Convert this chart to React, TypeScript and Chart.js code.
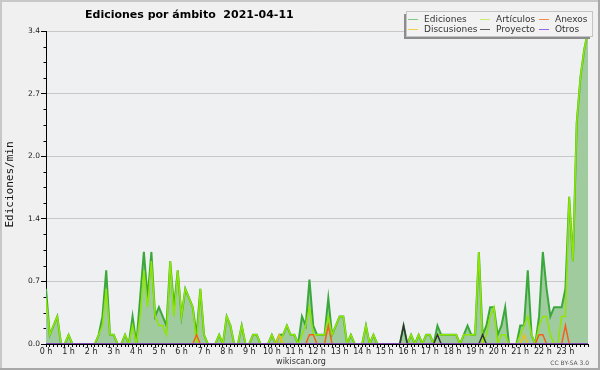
import React, { useEffect, useRef } from "react";
import { Chart, registerables } from "chart.js";

Chart.register(...registerables);

const TITLE = "Ediciones por ámbito  2021-04-11";
const Y_TITLE = "Ediciones/min";
const SITE = "wikiscan.org";
const LICENSE = "CC BY-SA 3.0";

const SERIES_NAMES = ["Ediciones", "Artículos", "Anexos", "Discusiones", "Proyecto", "Otros"];
const HOUR_LABELS = [
  "0 h", "1 h", "2 h", "3 h", "4 h", "5 h", "6 h", "7 h", "8 h", "9 h", "10 h", "11 h",
  "12 h", "13 h", "14 h", "15 h", "16 h", "17 h", "18 h", "19 h", "20 h", "21 h", "22 h", "23 h",
];
const STEPS_PER_HOUR = 6; // one value every 10 minutes
const Y_TICKS = [0, 0.68, 1.36, 2.04, 2.72, 3.4];
const Y_MINOR_STEP = 0.17;
const Y_MAX = 3.4;
const X_MAX = 24;

// edits per minute, 10-minute samples (row = 2 hours)
const EDICIONES = [
  0.6, 0.1, 0.2, 0.3, 0, 0, 0.1, 0, 0, 0, 0, 0,
  0, 0, 0.1, 0.3, 0.8, 0.1, 0.1, 0, 0, 0.1, 0, 0.3,
  0, 0.5, 1.0, 0.5, 1.0, 0.3, 0.4, 0.3, 0.2, 0.9, 0.4, 0.8,
  0.3, 0.6, 0.5, 0.4, 0.1, 0.6, 0.1, 0, 0, 0, 0.1, 0,
  0.3, 0.2, 0, 0, 0.2, 0, 0, 0.1, 0.1, 0, 0, 0,
  0.1, 0, 0.1, 0.1, 0.2, 0.1, 0.1, 0, 0.3, 0.2, 0.7, 0.2,
  0.1, 0.1, 0.1, 0.5, 0.1, 0.2, 0.3, 0.3, 0, 0.1, 0, 0,
  0, 0.2, 0, 0.1, 0, 0, 0, 0, 0, 0, 0, 0.2,
  0, 0.1, 0, 0.1, 0, 0.1, 0.1, 0, 0.2, 0.1, 0.1, 0.1,
  0.1, 0.1, 0, 0.1, 0.2, 0.1, 0.1, 1.0, 0.1, 0.2, 0.4, 0.4,
  0.1, 0.2, 0.4, 0, 0, 0, 0.2, 0.2, 0.8, 0.1, 0, 0.3,
  1.0, 0.6, 0.3, 0.4, 0.4, 0.4, 0.6, 1.6, 0.9, 2.4, 2.9, 3.2,
  3.4,
];
const ARTICULOS = [
  0.5, 0.1, 0.2, 0.3, 0, 0, 0.1, 0, 0, 0, 0, 0,
  0, 0, 0.1, 0.2, 0.6, 0.1, 0.1, 0, 0, 0.1, 0, 0.2,
  0, 0.3, 0.8, 0.4, 0.9, 0.3, 0.2, 0.2, 0.1, 0.9, 0.3, 0.8,
  0.3, 0.6, 0.5, 0.4, 0, 0.6, 0.1, 0, 0, 0, 0.1, 0,
  0.3, 0.2, 0, 0, 0.2, 0, 0, 0.1, 0.1, 0, 0, 0,
  0.1, 0, 0, 0.1, 0.2, 0.1, 0.1, 0, 0.1, 0.2, 0.4, 0.1,
  0.1, 0.1, 0.1, 0.3, 0.1, 0.2, 0.3, 0.3, 0, 0.1, 0, 0,
  0, 0.2, 0, 0.1, 0, 0, 0, 0, 0, 0, 0, 0,
  0, 0.1, 0, 0.1, 0, 0.1, 0.1, 0, 0.1, 0.1, 0.1, 0.1,
  0.1, 0.1, 0, 0.1, 0.1, 0.1, 0.1, 1.0, 0, 0.1, 0.3, 0.4,
  0, 0.1, 0.1, 0, 0, 0, 0.1, 0.2, 0.3, 0.1, 0, 0.2,
  0.3, 0.3, 0.1, 0, 0, 0.3, 0.3, 1.6, 0.9, 2.4, 2.9, 3.2,
  3.4,
];
const ANEXOS = [
  0, 0, 0, 0, 0, 0, 0, 0, 0, 0, 0, 0,
  0, 0, 0, 0, 0, 0, 0, 0, 0, 0, 0, 0,
  0, 0, 0, 0, 0, 0, 0, 0, 0, 0, 0, 0,
  0, 0, 0, 0, 0.1, 0, 0, 0, 0, 0, 0, 0,
  0, 0, 0, 0, 0, 0, 0, 0, 0, 0, 0, 0,
  0, 0, 0, 0, 0, 0, 0, 0, 0, 0, 0.1, 0.1,
  0, 0, 0, 0.2, 0, 0, 0, 0, 0, 0, 0, 0,
  0, 0, 0, 0, 0, 0, 0, 0, 0, 0, 0, 0,
  0, 0, 0, 0, 0, 0, 0, 0, 0, 0, 0, 0,
  0, 0, 0, 0, 0, 0, 0, 0, 0, 0, 0, 0,
  0, 0, 0, 0, 0, 0, 0, 0, 0, 0, 0, 0.1,
  0.1, 0, 0, 0, 0, 0, 0.2, 0, 0, 0, 0, 0,
  0,
];
const DISCUSIONES = [
  0, 0, 0, 0, 0, 0, 0, 0, 0, 0, 0, 0,
  0, 0, 0, 0, 0, 0, 0, 0, 0, 0, 0, 0,
  0, 0, 0, 0, 0, 0, 0, 0, 0, 0, 0, 0,
  0, 0, 0, 0, 0, 0, 0, 0, 0, 0, 0, 0,
  0, 0, 0, 0, 0, 0, 0, 0, 0, 0, 0, 0,
  0, 0, 0.1, 0, 0, 0, 0, 0, 0, 0, 0, 0,
  0, 0, 0, 0, 0, 0, 0, 0, 0, 0, 0, 0,
  0, 0, 0, 0, 0, 0, 0, 0, 0, 0, 0, 0,
  0, 0, 0, 0, 0, 0, 0, 0, 0, 0, 0, 0,
  0, 0, 0, 0, 0, 0, 0, 0, 0, 0, 0, 0,
  0, 0, 0, 0, 0, 0, 0, 0.1, 0, 0, 0, 0,
  0, 0, 0, 0, 0, 0, 0, 0, 0, 0, 0, 0,
  0,
];
const PROYECTO = [
  0, 0, 0, 0, 0, 0, 0, 0, 0, 0, 0, 0,
  0, 0, 0, 0, 0, 0, 0, 0, 0, 0, 0, 0,
  0, 0, 0, 0, 0, 0, 0, 0, 0, 0, 0, 0,
  0, 0, 0, 0, 0, 0, 0, 0, 0, 0, 0, 0,
  0, 0, 0, 0, 0, 0, 0, 0, 0, 0, 0, 0,
  0, 0, 0, 0, 0, 0, 0, 0, 0, 0, 0, 0,
  0, 0, 0, 0, 0, 0, 0, 0, 0, 0, 0, 0,
  0, 0, 0, 0, 0, 0, 0, 0, 0, 0, 0, 0.2,
  0, 0, 0, 0, 0, 0, 0, 0, 0.1, 0, 0, 0,
  0, 0, 0, 0, 0, 0, 0, 0, 0.1, 0, 0, 0,
  0, 0, 0, 0, 0, 0, 0, 0, 0, 0, 0, 0,
  0, 0, 0, 0, 0, 0, 0, 0, 0, 0, 0, 0,
  0,
];
const OTROS = [
  0, 0, 0, 0, 0, 0, 0, 0, 0, 0, 0, 0,
  0, 0, 0, 0, 0, 0, 0, 0, 0, 0, 0, 0,
  0, 0, 0, 0, 0, 0, 0, 0, 0, 0, 0, 0,
  0, 0, 0, 0, 0, 0, 0, 0, 0, 0, 0, 0,
  0, 0, 0, 0, 0, 0, 0, 0, 0, 0, 0, 0,
  0, 0, 0, 0, 0, 0, 0, 0, 0, 0, 0, 0,
  0, 0, 0, 0, 0, 0, 0, 0, 0, 0, 0, 0,
  0, 0, 0, 0, 0, 0, 0, 0, 0, 0, 0, 0,
  0, 0, 0, 0, 0, 0, 0, 0, 0, 0, 0, 0,
  0, 0, 0, 0, 0, 0, 0, 0, 0, 0, 0, 0,
  0, 0, 0, 0, 0, 0, 0, 0, 0, 0, 0, 0,
  0, 0, 0, 0, 0, 0, 0, 0, 0, 0, 0, 0,
  0,
];

const SERIES_DATA = [EDICIONES, ARTICULOS, ANEXOS, DISCUSIONES, PROYECTO, OTROS];
const SERIES_COLORS = ["#3ba83b", "#8fe600", "#f2621e", "#f0c010", "#333333", "#8844dd"];
const LEGEND_COLORS = ["#84c884", "#c4ee70", "#f08a50", "#f0d24a", "#606060", "#9a66e8"];
const SERIES_WIDTHS = [2, 1.5, 1.5, 1.5, 1.5, 1.5];
const EDIC_FILL = "#9fcb9f";
const BG = "#f0f0f0";
const PLOT_BG = "#eef0f2";
const FONT = '"DejaVu Sans", sans-serif';

// legend layout: column, row
const LEGEND_POS = [
  [0, 0], [1, 0], [2, 0],
  [0, 1], [1, 1], [2, 1],
];
const LEGEND_COL_X = [408, 480, 539];
const LEGEND_ROW_Y = [19, 29];

const decor = {
  id: "decor",
  beforeDraw(chart: any) {
    const { ctx, chartArea: a, width, height } = chart;
    ctx.save();
    ctx.fillStyle = BG;
    ctx.fillRect(0, 0, width, height);
    ctx.fillStyle = PLOT_BG;
    ctx.fillRect(a.left, a.top, a.right - a.left, a.bottom - a.top);
    ctx.restore();
  },
  afterDraw(chart: any) {
    const { ctx, chartArea: a, width, height } = chart;
    const ys = chart.scales.y;
    ctx.save();
    // minor y ticks
    ctx.strokeStyle = "#000";
    ctx.lineWidth = 1;
    const nMinor = Math.round(Y_MAX / Y_MINOR_STEP);
    for (let k = 1; k < nMinor; k++) {
      if (k % 4 === 0) continue;
      const py = Math.round(ys.getPixelForValue(k * Y_MINOR_STEP)) + 0.5;
      ctx.beginPath();
      ctx.moveTo(a.left - 2.5, py);
      ctx.lineTo(a.left, py);
      ctx.stroke();
    }
    // title
    ctx.fillStyle = "#000";
    ctx.font = "bold 11px " + FONT;
    ctx.textAlign = "left";
    ctx.textBaseline = "alphabetic";
    ctx.fillText(TITLE, 85, 18);
    // y title
    ctx.save();
    ctx.translate(10, (a.top + a.bottom) / 2 - 3);
    ctx.rotate(-Math.PI / 2);
    ctx.font = '11px "DejaVu Sans Mono", monospace';
    ctx.textAlign = "center";
    ctx.textBaseline = "middle";
    ctx.fillStyle = "#111";
    ctx.fillText(Y_TITLE, 0, 0);
    ctx.restore();
    // legend box
    ctx.fillStyle = "#8c8c8c";
    ctx.fillRect(404, 14, 186, 25);
    ctx.fillStyle = "#f2f2f2";
    ctx.fillRect(406, 11, 187, 26);
    ctx.strokeStyle = "#c4c4c4";
    ctx.strokeRect(406.5, 11.5, 186, 25);
    ctx.font = "9px " + FONT;
    ctx.textBaseline = "middle";
    ctx.textAlign = "left";
    SERIES_NAMES.forEach((name, i) => {
      const [c, r] = LEGEND_POS[i];
      const x = LEGEND_COL_X[c];
      const y = LEGEND_ROW_Y[r];
      ctx.strokeStyle = LEGEND_COLORS[i];
      ctx.lineWidth = 1;
      ctx.beginPath();
      ctx.moveTo(x, y + 0.5);
      ctx.lineTo(x + 10, y + 0.5);
      ctx.stroke();
      ctx.fillStyle = "#333";
      ctx.fillText(name, x + 16, y + 0.5);
    });
    // footer
    ctx.fillStyle = "#333";
    ctx.font = "8px " + FONT;
    ctx.textAlign = "center";
    ctx.textBaseline = "alphabetic";
    ctx.fillText(SITE, 301, 364);
    ctx.font = "6px " + FONT;
    ctx.textAlign = "right";
    ctx.fillStyle = "#555";
    ctx.fillText(LICENSE, 589, 365);
    // frame
    ctx.fillStyle = "#c8c8c8";
    ctx.fillRect(0, 0, width, 2);
    ctx.fillRect(0, 0, 2, height);
    ctx.fillStyle = "#a8a8a8";
    ctx.fillRect(0, height - 2, width, 2);
    ctx.fillRect(width - 2, 0, 2, height);
    ctx.restore();
  },
};

export default function App() {
  const ref = useRef<HTMLCanvasElement>(null);
  useEffect(() => {
    document.body.style.margin = "0";
    const canvas = ref.current!;
    const datasets = SERIES_DATA.map((arr, si) => ({
      label: SERIES_NAMES[si],
      data: arr.map((v, i) => ({ x: i / STEPS_PER_HOUR, y: v })),
      borderColor: SERIES_COLORS[si],
      backgroundColor: si === 0 ? EDIC_FILL : SERIES_COLORS[si],
      fill: si === 0 ? "origin" : false,
      borderWidth: SERIES_WIDTHS[si],
      pointRadius: 0,
      tension: 0,
      order: SERIES_DATA.length - si,
    }));
    const nTicks = X_MAX * STEPS_PER_HOUR;
    const chart = new Chart(canvas, {
      type: "line",
      data: { datasets },
      options: {
        animation: false,
        responsive: false,
        devicePixelRatio: 1,
        layout: { padding: { top: 31, right: 12, left: 0, bottom: 0 } },
        plugins: {
          legend: { display: false },
          tooltip: { enabled: false },
          title: { display: false },
        },
        scales: {
          x: {
            type: "linear",
            min: 0,
            max: X_MAX,
            z: 1,
            afterFit: (s: any) => {
              s.height = 26;
            },
            afterBuildTicks: (s: any) => {
              const t = [];
              for (let k = 0; k <= nTicks; k++) t.push({ value: k / STEPS_PER_HOUR });
              s.ticks = t;
            },
            ticks: {
              autoSkip: false,
              maxRotation: 0,
              minRotation: 0,
              padding: 0,
              color: "#222",
              font: { family: FONT, size: 8 },
              callback: (_v: any, idx: number) =>
                idx % STEPS_PER_HOUR === 0 ? HOUR_LABELS[idx / STEPS_PER_HOUR] ?? "" : "",
            },
            grid: {
              drawOnChartArea: false,
              drawTicks: true,
              tickLength: 3,
              color: "#000",
              tickColor: "#000",
            },
            border: { display: true, color: "#000", width: 1 },
          },
          y: {
            min: 0,
            max: Y_MAX,
            afterFit: (s: any) => {
              s.width = 46;
            },
            afterBuildTicks: (s: any) => {
              s.ticks = Y_TICKS.map((v) => ({ value: v }));
            },
            ticks: {
              padding: 1,
              color: "#222",
              font: { family: FONT, size: 7.5 },
              callback: (v: any) => Number(v).toFixed(1),
            },
            grid: {
              color: "#c8c8c8",
              tickColor: "#000",
              tickLength: 5,
            },
            border: { display: true, color: "#000", width: 1 },
          },
        },
      },
      plugins: [decor],
    } as any);
    return () => chart.destroy();
  }, []);
  return (
    <canvas
      ref={ref}
      width={600}
      height={370}
      style={{ display: "block", width: 600, height: 370 }}
    />
  );
}
